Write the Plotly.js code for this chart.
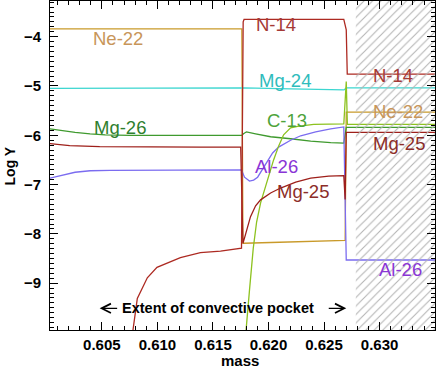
<!DOCTYPE html>
<html>
<head>
<meta charset="utf-8">
<script src="https://cdn.plot.ly/plotly-3.0.1.min.js"></script>
<style>html,body{margin:0;padding:0;background:#fff;}#chart{width:436px;height:371px;}</style>
</head>
<body>
<div id="chart"></div>
<script>
// ---- data (mass coordinate vs Log Y) ----
const massNe22 = [0.6003, 0.6176, 0.6177, 0.6178, 0.6210, 0.6240, 0.6269, 0.6270, 0.6351];
const logNe22  = [-3.84, -3.84, -8.19, -8.19, -8.17, -8.15, -8.13, -5.53, -5.53];

const massN14 = [0.6076, 0.60780, 0.60819, 0.60909, 0.60996, 0.61098, 0.61207, 0.61387, 0.61568, 0.61757, 0.61772, 0.61780, 0.62678, 0.62700, 0.62709, 0.6351];
const logN14  = [-10.4, -9.95, -9.31, -8.89, -8.68, -8.58, -8.48, -8.38, -8.35, -8.29, -3.70, -3.65, -3.65, -3.86, -4.76, -4.76];

const massMg25 = [0.6003, 0.6021, 0.6048, 0.6094, 0.6139, 0.6175, 0.61770, 0.61787, 0.61811, 0.61838, 0.61884, 0.61929, 0.62019, 0.62109, 0.62245, 0.62380, 0.62542, 0.62678, 0.62690, 0.62700, 0.6351];
const logMg25  = [-6.17, -6.21, -6.23, -6.24, -6.24, -6.24, -8.19, -8.06, -7.84, -7.65, -7.43, -7.31, -7.17, -7.07, -6.95, -6.87, -6.83, -6.82, -7.30, -5.94, -5.94];

const massMg24 = [0.6003, 0.6176, 0.6178, 0.6220, 0.6268, 0.6270, 0.6351];
const logMg24  = [-5.05, -5.05, -5.04, -5.06, -5.08, -5.04, -5.04];

const massMg26 = [0.6003, 0.60124, 0.60259, 0.60394, 0.60530, 0.60755, 0.6176, 0.61775, 0.61802, 0.61884, 0.62019, 0.62199, 0.62380, 0.62560, 0.62678, 0.62700, 0.6351];
const logMg26  = [-5.87, -5.90, -5.94, -5.97, -5.99, -6.00, -6.00, -5.97, -5.93, -5.97, -6.03, -6.07, -6.12, -6.15, -6.16, -5.84, -5.84];

const massC13 = [0.61775, 0.61796, 0.61829, 0.61863, 0.61893, 0.61929, 0.61956, 0.62001, 0.62046, 0.62091, 0.62136, 0.62199, 0.62263, 0.62407, 0.62678, 0.62700, 0.62710, 0.6351];
const logC13  = [-10.56, -9.95, -9.14, -8.29, -7.76, -7.37, -7.17, -6.83, -6.50, -6.22, -5.99, -5.85, -5.82, -5.78, -5.77, -4.91, -5.78, -5.78];

const massAl26 = [0.6003, 0.60124, 0.60259, 0.60394, 0.60575, 0.61757, 0.61784, 0.61829, 0.61866, 0.61902, 0.61947, 0.61989, 0.62037, 0.62091, 0.62199, 0.62290, 0.62425, 0.62560, 0.62678, 0.62700, 0.6351];
const logAl26  = [-6.87, -6.82, -6.75, -6.72, -6.71, -6.70, -6.85, -6.93, -6.91, -6.85, -6.68, -6.54, -6.36, -6.24, -6.10, -6.01, -5.93, -5.87, -5.83, -8.53, -8.53];

// hatched (excluded) region in mass
const hatchMass = [0.62786, 0.6360];
const hatchLog  = [-11, -3];

// species labels
const labelText = ["Ne-22", "Mg-26", "N-14", "Mg-24", "C-13", "Al-26", "Mg-25", "N-14", "Ne-22", "Mg-25", "Al-26"];
const labelMass = [0.60643, 0.60665, 0.62070, 0.62145, 0.62170, 0.62069, 0.62308, 0.63117, 0.63170, 0.63177, 0.63192];
const labelLog  = [-4.03, -5.84, -3.75, -4.89, -5.69, -6.63, -7.14, -4.78, -5.52, -6.16, -8.73];

const pocketText = "Extent of convective pocket";
const pocketMass = 0.61543;
const pocketLog = -9.51;
const arrowLeftMass = 0.60480;   // arrow heads
const arrowRightMass = 0.62700;

// ---- styles ----
const FONT = "Liberation Sans, Arial, Helvetica, sans-serif";
const lineColors = {
  "Ne-22": "#c99a2a", "N-14": "#ad2a22", "Mg-25": "#9e1f1a", "Mg-24": "#3cd6d0",
  "Mg-26": "#3f9a2e", "C-13": "#8dc21f", "Al-26": "#7b6cf0"
};
const labelColors = {
  "Ne-22": "#c8965a", "N-14": "#a53a36", "Mg-25": "#8c2d28", "Mg-24": "#2fbcbc",
  "Mg-26": "#2f7f2f", "C-13": "#4da33a", "Al-26": "#8a35d6"
};

function line(x, y, name) {
  return {x: x, y: y, mode: "lines", type: "scatter", name: name,
          line: {color: lineColors[name], width: 1.3}, hoverinfo: "skip", showlegend: false};
}

const traces = [
  line(massNe22, logNe22, "Ne-22"),
  line(massMg24, logMg24, "Mg-24"),
  line(massMg26, logMg26, "Mg-26"),
  line(massAl26, logAl26, "Al-26"),
  line(massC13, logC13, "C-13"),
  line(massMg25, logMg25, "Mg-25"),
  line(massN14, logN14, "N-14"),
  {
    x: [hatchMass[0], hatchMass[1], hatchMass[1], hatchMass[0], hatchMass[0]],
    y: [hatchLog[0], hatchLog[0], hatchLog[1], hatchLog[1], hatchLog[0]],
    type: "scatter", mode: "none", fill: "toself", fillcolor: "rgba(0,0,0,0)",
    fillpattern: {shape: "/", fgcolor: "#b4b4b4", bgcolor: "rgba(0,0,0,0)", size: 6, solidity: 0.18},
    hoverinfo: "skip", showlegend: false
  }
];

const annotations = labelText.map((t, i) => ({
  x: labelMass[i], y: labelLog[i], xref: "x", yref: "y", text: t, showarrow: false,
  xanchor: "center", yanchor: "middle",
  font: {family: FONT, size: 18.5, color: labelColors[t]}
}));

annotations.push({
  x: pocketMass, y: pocketLog, xref: "x", yref: "y", text: pocketText, showarrow: false,
  xanchor: "center", yanchor: "middle",
  font: {family: FONT, size: 14.5, color: "#000", weight: "bold"}
});
annotations.push({
  x: arrowLeftMass, y: pocketLog, xref: "x", yref: "y", text: "", showarrow: true,
  ax: 19, ay: 0, arrowhead: 5, arrowsize: 1.4, arrowwidth: 1.3, arrowcolor: "#000"
});
annotations.push({
  x: arrowRightMass, y: pocketLog, xref: "x", yref: "y", text: "", showarrow: true,
  ax: -19, ay: 0, arrowhead: 5, arrowsize: 1.4, arrowwidth: 1.3, arrowcolor: "#000"
});
// axis titles
annotations.push({
  x: 0.4935, y: -0.093, xref: "paper", yref: "paper", text: "mass", showarrow: false,
  xanchor: "center", yanchor: "middle", font: {family: FONT, size: 15, color: "#000", weight: "bold"}
});
annotations.push({
  x: -0.104, y: 0.5, xref: "paper", yref: "paper", text: "Log Y", showarrow: false, textangle: -90,
  xanchor: "center", yanchor: "middle", font: {family: FONT, size: 14, color: "#000", weight: "bold"}
});

const layout = {
  width: 436, height: 371,
  margin: {l: 50, r: 1, t: 1, b: 41, pad: 0},
  paper_bgcolor: "#fff", plot_bgcolor: "#fff",
  showlegend: false,
  xaxis: {
    range: [0.60033, 0.63499], tickmode: "linear", tick0: 0.6, dtick: 0.005, tickformat: ".3f",
    ticks: "inside", ticklen: 8, tickwidth: 1, tickcolor: "#000",
    minor: {dtick: 0.001, ticks: "inside", ticklen: 4, tickcolor: "#000", tickwidth: 1, showgrid: false},
    showline: true, linecolor: "#000", linewidth: 1, mirror: "ticks",
    showgrid: false, zeroline: false, ticklabelstandoff: 1,
    tickfont: {family: FONT, size: 15, color: "#000", weight: "bold"}
  },
  yaxis: {
    range: [-9.95, -3.276], tickmode: "linear", tick0: -10, dtick: 1,
    ticks: "inside", ticklen: 8, tickwidth: 1, tickcolor: "#000",
    minor: {dtick: 0.1, ticks: "inside", ticklen: 4, tickcolor: "#000", tickwidth: 1, showgrid: false},
    showline: true, linecolor: "#000", linewidth: 1, mirror: "ticks",
    showgrid: false, zeroline: false, ticklabelstandoff: 5,
    tickfont: {family: FONT, size: 15, color: "#000", weight: "bold"}
  },
  annotations: annotations
};

Plotly.newPlot("chart", traces, layout, {staticPlot: true, displayModeBar: false});
</script>
</body>
</html>
